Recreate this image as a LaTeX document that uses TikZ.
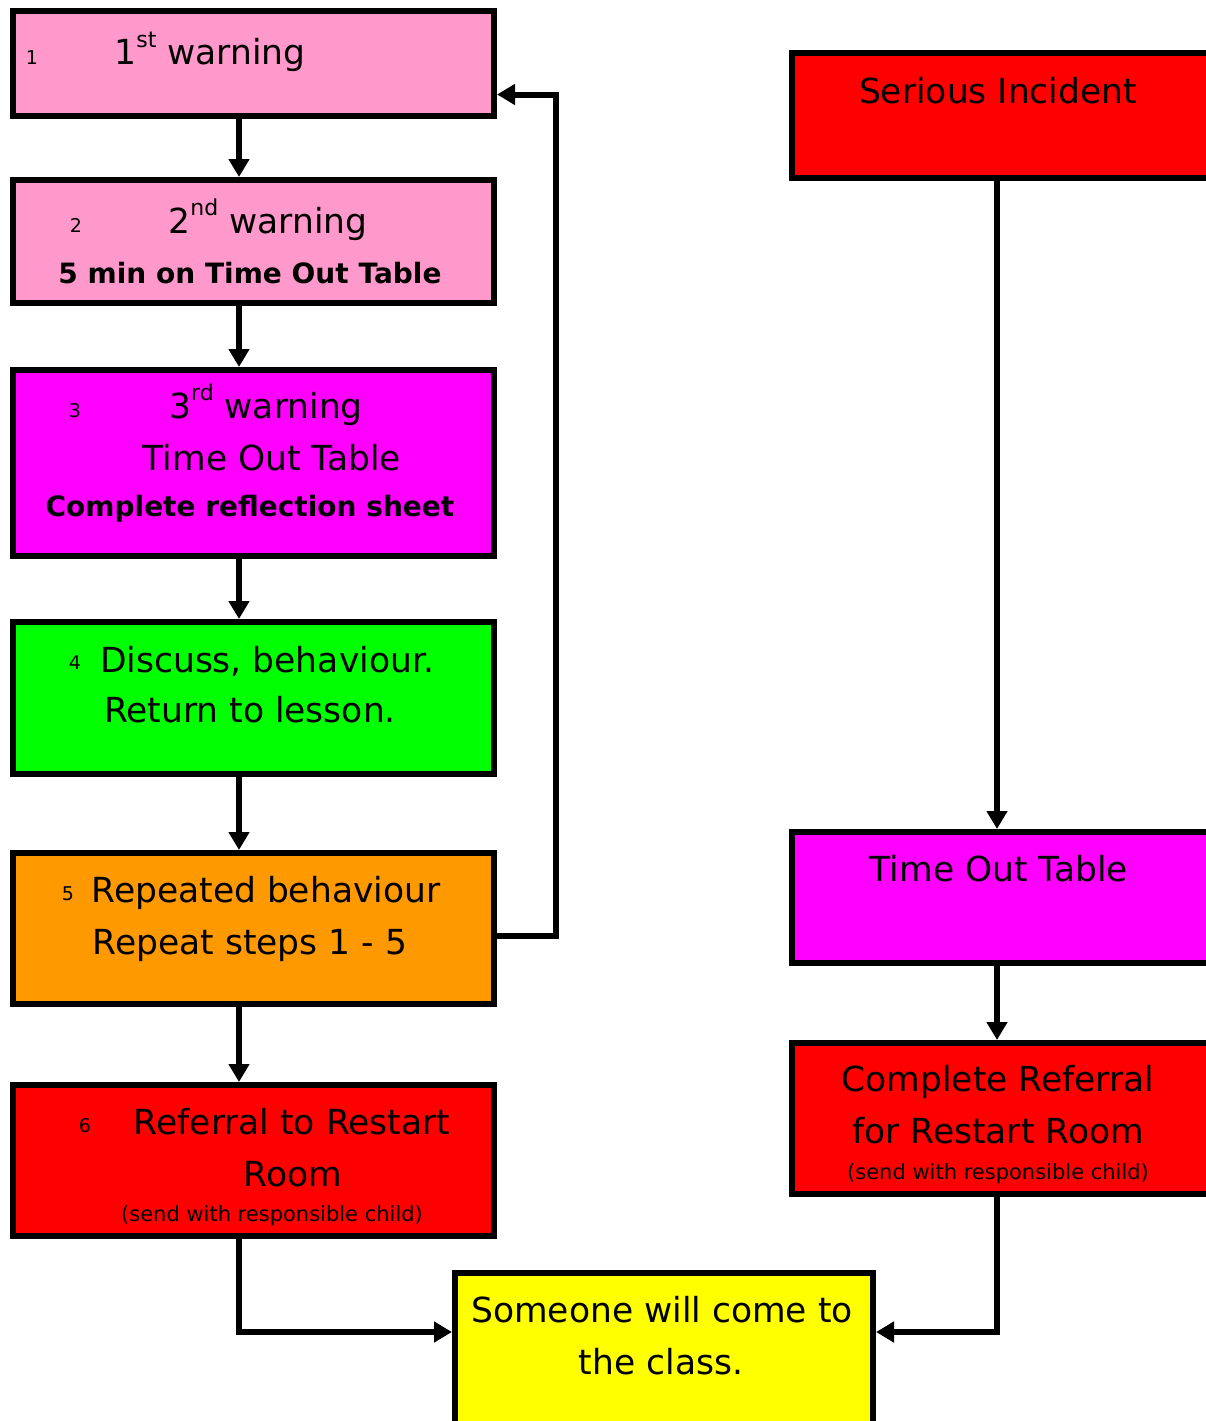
\documentclass[tikz,border=0pt]{standalone}
\usepackage{fontspec}
\setmainfont{DejaVu Sans}
\usetikzlibrary{arrows.meta,calc}
\definecolor{pinkbox}{HTML}{FF99CC}
\definecolor{magbox}{HTML}{FF00FF}
\definecolor{greenbox}{HTML}{00FF00}
\definecolor{orangebox}{HTML}{FF9900}
\definecolor{redbox}{HTML}{FF0000}
\definecolor{yellowbox}{HTML}{FFFF00}
\newcommand\mysups[1]{\raisebox{0.5em}{\fontsize{22}{22}\selectfont #1}}
\begin{document}
\begin{tikzpicture}[x=1pt,y=-1pt,
  box/.style={draw=black, line width=6pt, rectangle, inner sep=0pt, anchor=north west},
  conn/.style={line width=6pt, -{Triangle[width=20pt,length=18pt]}},
  txt/.style={anchor=base, inner sep=0pt, font=\fontsize{34.5}{40}\selectfont},
  num/.style={anchor=base, inner sep=0pt, font=\fontsize{19}{22}\selectfont},
  smalltxt/.style={anchor=base, inner sep=0pt, font=\fontsize{21}{24}\selectfont},
  boldtxt/.style={anchor=base, inner sep=0pt, font=\bfseries\fontsize{28}{34}\selectfont}]
\useasboundingbox (0,0) rectangle (1206,1421);

% left column boxes
\node[box, fill=pinkbox,   minimum width=481pt, minimum height=105pt] (b1) at (10,8) {};
\node[box, fill=pinkbox,   minimum width=481pt, minimum height=123pt] (b2) at (10,177) {};
\node[box, fill=magbox,    minimum width=481pt, minimum height=186pt] (b3) at (10,367) {};
\node[box, fill=greenbox,  minimum width=481pt, minimum height=152pt] (b4) at (10,619) {};
\node[box, fill=orangebox, minimum width=481pt, minimum height=151pt] (b5) at (10,850) {};
\node[box, fill=redbox,    minimum width=481pt, minimum height=151pt] (b6) at (10,1082) {};
% bottom box
\node[box, fill=yellowbox, minimum width=418pt, minimum height=175pt] (yel) at (452,1270) {};
% right column boxes
\node[box, fill=redbox, minimum width=440pt, minimum height=125pt] (si) at (789,50) {};
\node[box, fill=magbox, minimum width=440pt, minimum height=131pt] (tot) at (789,829) {};
\node[box, fill=redbox, minimum width=440pt, minimum height=151pt] (cr) at (789,1040) {};

% texts
\node[num] (n1) at (32,64) {1};
\node[txt] (t1) at (210,65) {1\mysups{st} warning};

\node[num] (n2) at (76,232) {2};
\node[txt] (t2a) at (268,233) {2\mysups{nd} warning};
\node[boldtxt] (t2b) at (250,283) {5 min on Time Out Table};

\node[num] (n3) at (75,417) {3};
\node[txt] (t3a) at (266,418) {3\mysups{rd} warning};
\node[txt] (t3b) at (272,470) {Time Out Table};
\node[boldtxt] (t3c) at (250,516) {Complete reflection sheet};

\node[num] (n4) at (75,669) {4};
\node[txt] (t4a) at (267,672) {Discuss, behaviour.};
\node[txt] (t4b) at (250,722) {Return to lesson.};

\node[num] (n5) at (68,900) {5};
\node[txt] (t5a) at (266,902) {Repeated behaviour};
\node[txt] (t5b) at (250,954) {Repeat steps 1 - 5};

\node[num] (n6) at (85,1132) {6};
\node[txt] (t6a) at (292,1134) {Referral to Restart};
\node[txt] (t6b) at (293,1186) {Room};
\node[smalltxt] (t6c) at (272,1221) {(send with responsible child)};

\node[txt] (tsi) at (998,103) {Serious Incident};
\node[txt] (ttot) at (999,881) {Time Out Table};
\node[txt] (tcra) at (998,1091) {Complete Referral};
\node[txt] (tcrb) at (998,1143) {for Restart Room};
\node[smalltxt] (tcrc) at (998,1179) {(send with responsible child)};

\node[txt] (tya) at (662,1322) {Someone will come to};
\node[txt] (tyb) at (661,1374) {the class.};

% connector helper coordinates
\coordinate (lx) at (239,0);
\coordinate (rx) at (997,0);
\coordinate (fbx) at (556,0);
\coordinate (ym) at (0,1332);

% left column connectors
\draw[conn] (b1.south -| lx) -- (b2.north -| lx);
\draw[conn] (b2.south -| lx) -- (b3.north -| lx);
\draw[conn] (b3.south -| lx) -- (b4.north -| lx);
\draw[conn] ([yshift=6pt]b4.south -| lx) -- (b5.north -| lx);
\draw[conn] ([yshift=6pt]b5.south -| lx) -- (b6.north -| lx);
% feedback loop
\draw[conn] ([yshift=-7pt]b5.east) -| ([yshift=-31pt]b1.east -| fbx) -- ([yshift=-31pt]b1.east);
% to yellow box
\draw[conn] ([yshift=3pt]b6.south -| lx) |- (yel.west |- ym);
% right column connectors
\draw[conn] (si.south -| rx) -- (tot.north -| rx);
\draw[conn] ([yshift=5pt]tot.south -| rx) -- (cr.north -| rx);
\draw[conn] ([yshift=4pt]cr.south -| rx) |- (yel.east |- ym);
\end{tikzpicture}
\end{document}
